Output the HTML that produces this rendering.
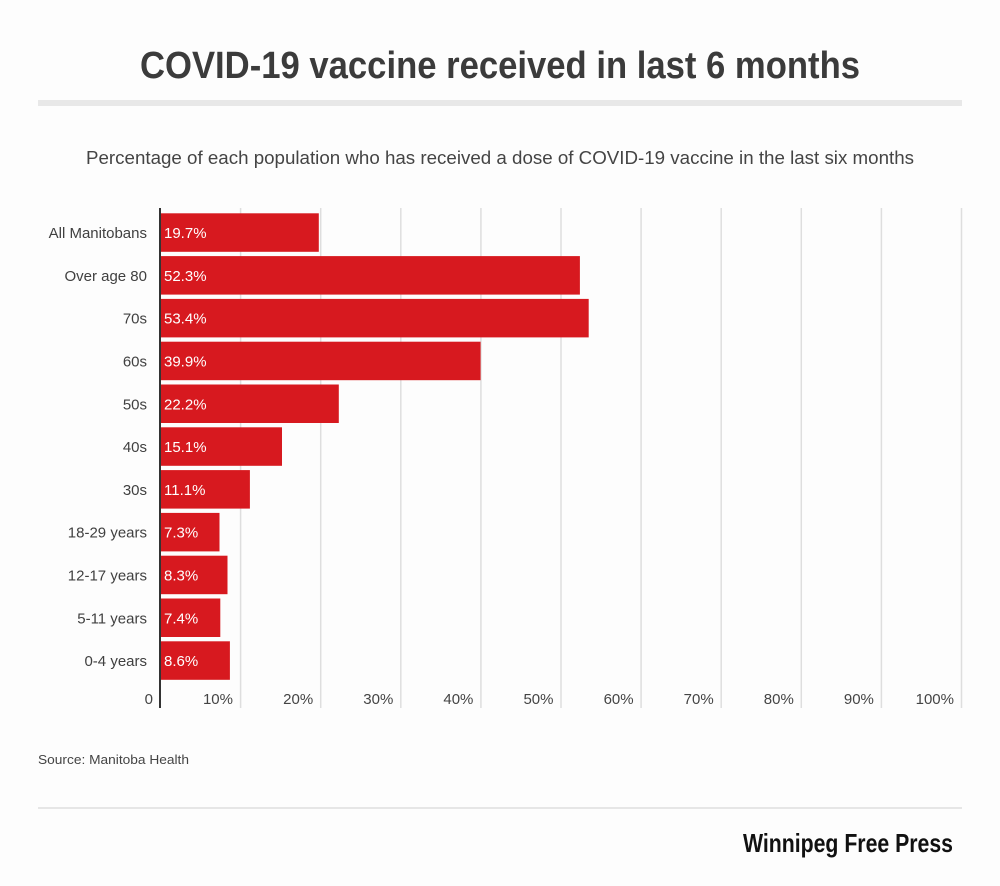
<!DOCTYPE html>
<html><head><meta charset="utf-8"><style>
html,body{margin:0;padding:0;background:#fdfdfd;}
svg{display:block;font-family:"Liberation Sans",sans-serif;}
</style></head><body>
<svg width="1000" height="886" viewBox="0 0 1000 886" xmlns="http://www.w3.org/2000/svg">
<rect width="1000" height="886" fill="#fdfdfd"/>
<text x="140" y="78" font-size="38" font-weight="bold" fill="#3b3b3b" textLength="720" lengthAdjust="spacingAndGlyphs">COVID-19 vaccine received in last 6 months</text>
<rect x="38" y="100" width="924" height="6" fill="#e8e8e8"/>
<text x="86" y="164" font-size="18" fill="#444" textLength="828" lengthAdjust="spacingAndGlyphs">Percentage of each population who has received a dose of COVID-19 vaccine in the last six months</text>
<g stroke="#dedede" stroke-width="1.5">
<line x1="240.6" y1="208" x2="240.6" y2="708"/>
<line x1="320.7" y1="208" x2="320.7" y2="708"/>
<line x1="400.8" y1="208" x2="400.8" y2="708"/>
<line x1="480.9" y1="208" x2="480.9" y2="708"/>
<line x1="561" y1="208" x2="561" y2="708"/>
<line x1="641.1" y1="208" x2="641.1" y2="708"/>
<line x1="721.2" y1="208" x2="721.2" y2="708"/>
<line x1="801.3" y1="208" x2="801.3" y2="708"/>
<line x1="881.4" y1="208" x2="881.4" y2="708"/>
<line x1="961.5" y1="208" x2="961.5" y2="708"/>
</g>
<g fill="#d7191f">
<rect x="161" y="213.3" width="157.8" height="38.5"/>
<rect x="161" y="256.1" width="418.9" height="38.5"/>
<rect x="161" y="298.9" width="427.7" height="38.5"/>
<rect x="161" y="341.7" width="319.6" height="38.5"/>
<rect x="161" y="384.5" width="177.8" height="38.5"/>
<rect x="161" y="427.3" width="121" height="38.5"/>
<rect x="161" y="470.1" width="88.9" height="38.5"/>
<rect x="161" y="512.9" width="58.5" height="38.5"/>
<rect x="161" y="555.7" width="66.5" height="38.5"/>
<rect x="161" y="598.5" width="59.3" height="38.5"/>
<rect x="161" y="641.3" width="68.9" height="38.5"/>
</g>
<line x1="160" y1="208" x2="160" y2="708" stroke="#333" stroke-width="2"/>
<g font-size="15" fill="#404040" text-anchor="end">
<text x="147" y="238">All Manitobans</text>
<text x="147" y="281">Over age 80</text>
<text x="147" y="323.7">70s</text>
<text x="147" y="366.5">60s</text>
<text x="147" y="409.3">50s</text>
<text x="147" y="452.1">40s</text>
<text x="147" y="494.9">30s</text>
<text x="147" y="537.7">18-29 years</text>
<text x="147" y="580.5">12-17 years</text>
<text x="147" y="623.3">5-11 years</text>
<text x="147" y="666.1">0-4 years</text>
</g>
<g font-size="15" fill="#ffffff">
<text x="164" y="238">19.7%</text>
<text x="164" y="281">52.3%</text>
<text x="164" y="323.7">53.4%</text>
<text x="164" y="366.5">39.9%</text>
<text x="164" y="409.3">22.2%</text>
<text x="164" y="452.1">15.1%</text>
<text x="164" y="494.9">11.1%</text>
<text x="164" y="537.7">7.3%</text>
<text x="164" y="580.5">8.3%</text>
<text x="164" y="623.3">7.4%</text>
<text x="164" y="666.1">8.6%</text>
</g>
<g font-size="15" fill="#444" text-anchor="end">
<text x="153" y="704">0</text>
<text x="233" y="704">10%</text>
<text x="313.2" y="704">20%</text>
<text x="393.3" y="704">30%</text>
<text x="473.4" y="704">40%</text>
<text x="553.5" y="704">50%</text>
<text x="633.6" y="704">60%</text>
<text x="713.7" y="704">70%</text>
<text x="793.8" y="704">80%</text>
<text x="873.9" y="704">90%</text>
<text x="954" y="704">100%</text>
</g>
<text x="38" y="764" font-size="13" fill="#444" textLength="151" lengthAdjust="spacingAndGlyphs">Source: Manitoba Health</text>
<rect x="38" y="807" width="924" height="2" fill="#e6e6e6"/>
<text x="743" y="852" font-size="26" font-weight="bold" fill="#111" textLength="210" lengthAdjust="spacingAndGlyphs">Winnipeg Free Press</text>
</svg>
</body></html>
